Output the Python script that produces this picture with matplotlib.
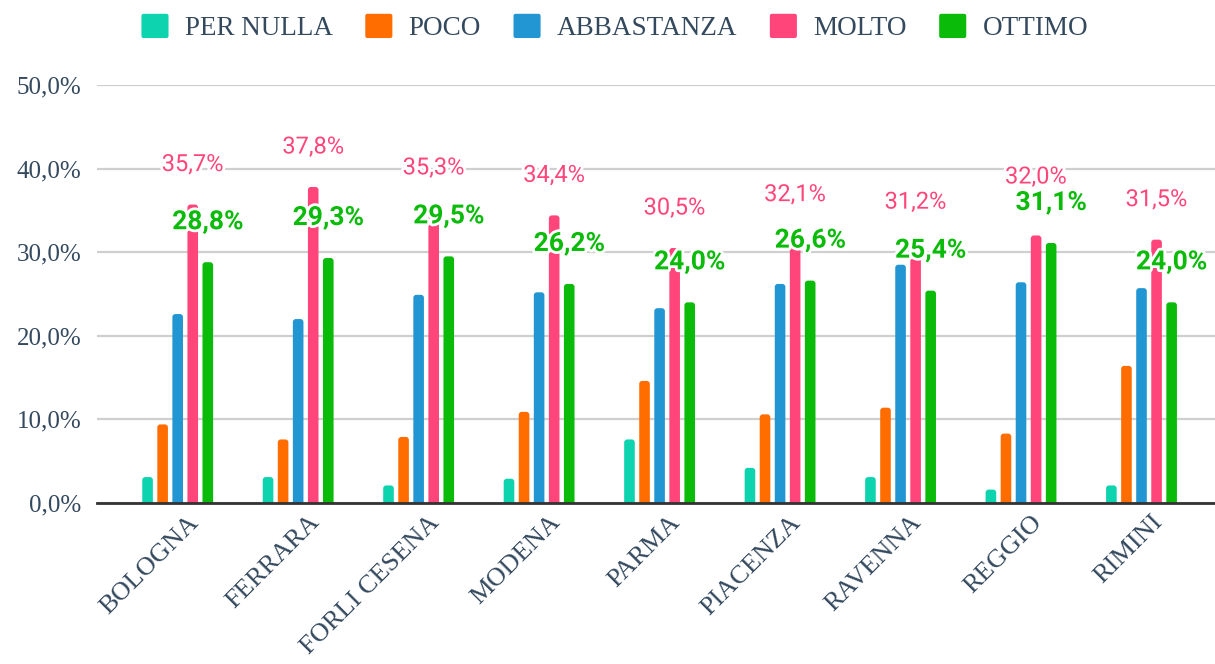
import matplotlib
matplotlib.use("Agg")
import matplotlib.pyplot as plt
import matplotlib.patheffects as pe
from matplotlib.patches import FancyBboxPatch, Patch
from matplotlib.legend_handler import HandlerPatch
import numpy as np

provinces = ["BOLOGNA", "FERRARA", "FORLI CESENA", "MODENA", "PARMA",
             "PIACENZA", "RAVENNA", "REGGIO", "RIMINI"]
series_names = ["PER NULLA", "POCO", "ABBASTANZA", "MOLTO", "OTTIMO"]
per_nulla = [3.1, 3.1, 2.1, 2.9, 7.6, 4.2, 3.1, 1.6, 2.1]
poco = [9.4, 7.6, 7.9, 10.9, 14.6, 10.6, 11.4, 8.3, 16.4]
abbastanza = [22.6, 22.0, 24.9, 25.2, 23.3, 26.2, 28.5, 26.4, 25.7]
molto = [35.7, 37.8, 35.3, 34.4, 30.5, 32.1, 31.2, 32.0, 31.5]
ottimo = [28.8, 29.3, 29.5, 26.2, 24.0, 26.6, 25.4, 31.1, 24.0]
y_ticks = [0, 10, 20, 30, 40, 50]

colors = ["#0dd3ae", "#ff6d00", "#2196d3", "#ff457a", "#0abb0a"]
text_color = "#34495e"
serif = ["Liberation Serif", "DejaVu Serif"]


def pct(v):
    return f"{v:.1f}%".replace(".", ",")


fig = plt.figure(figsize=(12.15, 6.64), dpi=100)
ax = fig.add_axes([0.0798, 0.2425, 0.9202, 0.6295])

series = [per_nulla, poco, abbastanza, molto, ottimo]
x = np.arange(len(provinces))
step = 0.125
width = 0.088
x_scale = 120.4          # pixels per category
y_scale = 8.36           # pixels per percentage point
radius_px = 3.0
rx = radius_px / x_scale
aspect = x_scale / y_scale

# bars with rounded tops (bottom corners hidden below the baseline)
for i, (vals, col) in enumerate(zip(series, colors)):
    offs = (i - 2) * step
    for xi, v in zip(x, vals):
        left = xi + offs - width / 2
        patch = FancyBboxPatch((left, -rx * aspect), width, v + rx * aspect,
                               boxstyle=f"round,pad=0,rounding_size={rx}",
                               mutation_aspect=aspect,
                               facecolor=col, edgecolor="none", zorder=3)
        ax.add_patch(patch)

# value labels for MOLTO and OTTIMO, lifted above the bars
stroke = [pe.withStroke(linewidth=4, foreground="white")]
lift = 40      # pixels above the bar top
min_gap = 26   # vertical pixels kept between neighbouring labels
for xi, vm, vo in zip(x, molto, ottimo):
    ym = vm * y_scale + lift
    yo = vo * y_scale + lift
    if abs(ym - yo) < min_gap:
        ym = yo + min_gap
    ax.annotate(pct(vm), (xi + step, vm),
                xytext=(0, ym - vm * y_scale), textcoords="offset pixels",
                ha="center", va="center", fontsize=17,
                family="Roboto", color=colors[3], zorder=5,
                path_effects=stroke, annotation_clip=False)
    ax.annotate(pct(vo), (xi + 2 * step, vo),
                xytext=(0, lift), textcoords="offset pixels",
                ha="center", va="center", fontsize=19, fontweight="bold",
                family="Roboto", color=colors[4], zorder=6,
                path_effects=stroke, annotation_clip=False)

ax.set_xlim(-0.67, 8.61)
ax.set_ylim(0, 50)
ax.set_yticks(y_ticks)
ax.set_yticklabels([pct(t) for t in y_ticks],
                   family=serif, fontsize=18, color=text_color)
ax.yaxis.grid(True, color="#cfcfcf", linewidth=1.6, zorder=0)
ax.set_axisbelow(True)
ax.tick_params(axis="y", length=0, pad=11)
ax.tick_params(axis="x", length=0, pad=6)
ax.set_xticks(x + 0.08)
ax.set_xticklabels(provinces, rotation=45, ha="right", rotation_mode="anchor",
                   family=serif, fontsize=19, color=text_color)
for s in ["top", "right", "left"]:
    ax.spines[s].set_visible(False)
ax.spines["bottom"].set_color("#333333")
ax.spines["bottom"].set_linewidth(2)
ax.spines["bottom"].set_zorder(4)


def rounded_square(legend, orig_handle, xdescent, ydescent, width, height, fontsize):
    return FancyBboxPatch((-xdescent, -ydescent), width, height,
                          boxstyle="round,pad=0,rounding_size=1.5")


handles = [Patch(facecolor=c, edgecolor="none") for c in colors]
leg = fig.legend(handles, series_names, loc="center", bbox_to_anchor=(0.506, 0.9586),
                 ncol=5, frameon=False, handlelength=1.0, handleheight=1.0,
                 handletextpad=0.6, columnspacing=1.2,
                 handler_map={Patch: HandlerPatch(patch_func=rounded_square)},
                 prop={"family": serif, "size": 19.5})
for t in leg.get_texts():
    t.set_color(text_color)

fig.savefig("out.png", dpi=100)
